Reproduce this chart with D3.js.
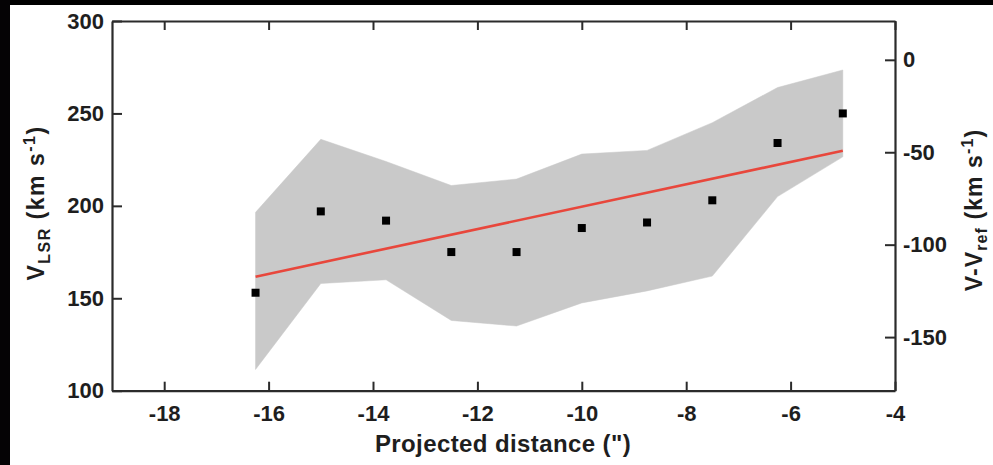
<!DOCTYPE html>
<html>
<head>
<meta charset="utf-8">
<script src="https://cdn.jsdelivr.net/npm/d3@7"></script>
<style>
  html, body { margin: 0; padding: 0; background: #fff; }
  svg { display: block; }
  text { font-family: "Liberation Sans", Arial, Helvetica, sans-serif; font-weight: bold; fill: #1e1e1e; }
</style>
</head>
<body>
<script>
// ---- data ----
const distances = [-16.25, -15, -13.75, -12.5, -11.25, -10, -8.75, -7.5, -6.25, -5];
const vlsr      = [153, 197, 192, 175, 175, 188, 191, 203, 234, 250];
const bandUpper = [196.5, 236, 224, 211, 214.5, 228, 230, 245, 264, 273.5];
const bandLower = [111.5, 158, 160, 138, 135, 147.5, 154, 162, 205, 226.5];
const fitX = [-16.25, -5];
const fitY = [161.7, 229.8];
const xTicks = [-18, -16, -14, -12, -10, -8, -6, -4];
const yLeftTicks = [100, 150, 200, 250, 300];
const yRightTicks = [0, -50, -100, -150];
const vRef = 279;

(function () {
const W = 993, H = 465;
const pLeft = 112, pRight = 895, pTop = 21, pBottom = 390.7;

const svg = d3.select("body").append("svg").attr("width", W).attr("height", H);

// black frame bands from the photo
svg.append("rect").attr("x", 0).attr("y", 0).attr("width", W).attr("height", 5).attr("fill", "#000");
svg.append("rect").attr("x", 0).attr("y", 0).attr("width", 10).attr("height", H).attr("fill", "#050305");

const x = d3.scaleLinear().domain([-19, -4]).range([pLeft, pRight]);
const yL = d3.scaleLinear().domain([100, 300]).range([pBottom, pTop]);
const yR = d3.scaleLinear().domain([100 - vRef, 300 - vRef]).range([pBottom, pTop]);

const band = distances.map((d, i) => ({x: d, lo: bandLower[i], hi: bandUpper[i]}));
const area = d3.area().x(d => x(d.x)).y0(d => yL(d.lo)).y1(d => yL(d.hi));
svg.append("path").datum(band).attr("d", area).attr("fill", "#c9c9c9").attr("stroke", "#c9c9c9").attr("stroke-width", 0.5);

// fit line
const fit = fitX.map((d, i) => ({x: d, y: fitY[i]}));
svg.append("path").datum(fit)
  .attr("d", d3.line().x(d => x(d.x)).y(d => yL(d.y)))
  .attr("stroke", "#e8473c").attr("stroke-width", 2.6).attr("fill", "none");

// points
const s = 8;
svg.selectAll("rect.pt").data(distances.map((d, i) => ({x: d, y: vlsr[i]})))
  .enter().append("rect").attr("class", "pt")
  .attr("x", d => x(d.x) - s / 2).attr("y", d => yL(d.y) - s / 2)
  .attr("width", s).attr("height", s).attr("fill", "#000");

const fmt = d => String(d);
function styleAxis(g) {
  g.selectAll(".domain").attr("stroke", "#2b2b2b").attr("stroke-width", 2.2);
  g.selectAll(".tick line").attr("stroke", "#2b2b2b").attr("stroke-width", 2);
  g.selectAll("text").attr("font-size", 22).attr("font-family", null).attr("fill", "#1e1e1e");
}

// bottom axis
const gB = svg.append("g").attr("transform", `translate(0,${pBottom})`)
  .call(d3.axisBottom(x).tickValues(xTicks).tickSize(-9).tickSizeOuter(0).tickFormat(fmt));
styleAxis(gB);
gB.selectAll("text").attr("y", 30).attr("dy", 0);

// top axis
const gT = svg.append("g").attr("transform", `translate(0,${pTop})`)
  .call(d3.axisTop(x).tickValues(xTicks).tickSize(-9).tickSizeOuter(0).tickFormat(""));
styleAxis(gT);

// left axis
const gL = svg.append("g").attr("transform", `translate(${pLeft},0)`)
  .call(d3.axisLeft(yL).tickValues(yLeftTicks).tickSize(-10).tickSizeOuter(0).tickPadding(8).tickFormat(fmt));
styleAxis(gL);

// right axis
const gR = svg.append("g").attr("transform", `translate(${pRight},0)`)
  .call(d3.axisRight(yR).tickValues(yRightTicks).tickSize(-10).tickSizeOuter(0).tickPadding(8).tickFormat(fmt));
styleAxis(gR);

// x label
svg.append("text").attr("x", 503).attr("y", 451.5).attr("text-anchor", "middle")
  .attr("font-size", 24).attr("letter-spacing", 0.4).text('Projected distance (")');

// left y label
const tl = svg.append("text").attr("transform", "translate(43.5,203) rotate(-90)")
  .attr("text-anchor", "middle").attr("font-size", 23).attr("letter-spacing", 1.5);
tl.append("tspan").text("V");
tl.append("tspan").attr("font-size", 16).attr("dy", 6).text("LSR");
tl.append("tspan").attr("dy", -6).text(" (km s");
tl.append("tspan").attr("font-size", 16).attr("dy", -9).text("-1");
tl.append("tspan").attr("dy", 9).text(")");

// right y label
const tr = svg.append("text").attr("transform", "translate(982,210) rotate(-90)")
  .attr("text-anchor", "middle").attr("font-size", 23).attr("letter-spacing", 1.1);
tr.append("tspan").text("V-V");
tr.append("tspan").attr("font-size", 16).attr("dy", 5).text("ref");
tr.append("tspan").attr("dy", -5).text(" (km s");
tr.append("tspan").attr("font-size", 16).attr("dy", -9).text("-1");
tr.append("tspan").attr("dy", 9).text(")");
})();
</script>
</body>
</html>
